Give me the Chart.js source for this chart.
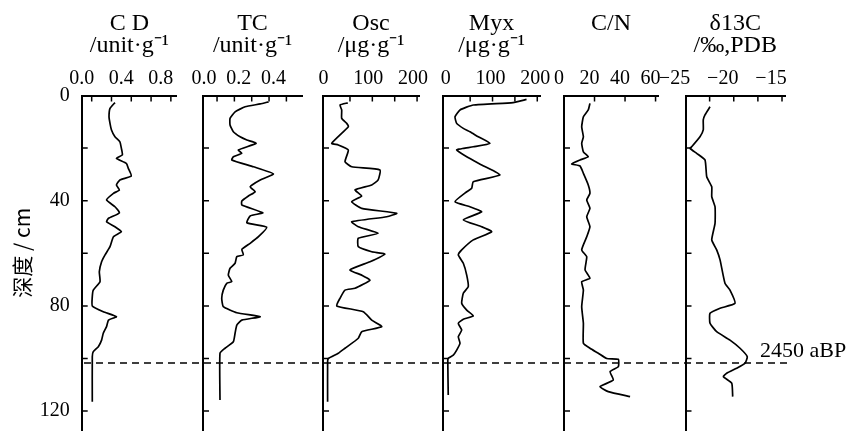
<!DOCTYPE html>
<html>
<head>
<meta charset="utf-8">
<script src="https://cdn.jsdelivr.net/npm/chart.js@4/dist/chart.umd.min.js"></script>
<style>
    body { margin: 0; background: #fff; }
    #wrap { position: relative; width: 847px; height: 431px; }
    #wrap canvas { position: absolute; left: 0; top: 0; }
</style>
</head>
<body>
<div id="wrap">
    <canvas id="c0" width="847" height="431"></canvas>
    <canvas id="c1" width="847" height="431"></canvas>
    <canvas id="c2" width="847" height="431"></canvas>
    <canvas id="c3" width="847" height="431"></canvas>
    <canvas id="c4" width="847" height="431"></canvas>
    <canvas id="c5" width="847" height="431"></canvas>
</div>
<script>
    // Depth axis (cm)
    const depthLabels = [0, 40, 80, 120];
    const depthMarks = [20, 40, 60, 80, 100, 120];
    const boundaryDepth = 101.7;
    const boundaryText = '2450 aBP';

    // CD /unit.g-1
    const cdDepth = [2.7, 4.9, 8.1, 10.6, 13.1, 15.7, 17.6, 20.1, 22.6, 23.9, 25.8, 27.7, 30.6, 32.1, 34.0, 35.9, 37.2, 39.7, 42.3, 44.6, 46.7, 48.0, 49.9, 51.8, 53.7, 57.5, 60.6, 63.2, 67.0, 70.8, 74.0, 76.5, 80.0, 82.2, 84.1, 85.4, 87.9, 90.4, 93.0, 95.5, 97.4, 99.3, 116.4];
    const cdValue = [0.235, 0.185, 0.175, 0.185, 0.20, 0.235, 0.285, 0.30, 0.31, 0.25, 0.35, 0.37, 0.40, 0.285, 0.25, 0.28, 0.22, 0.15, 0.235, 0.28, 0.17, 0.15, 0.235, 0.30, 0.22, 0.185, 0.135, 0.10, 0.077, 0.084, 0.016, 0.006, 0.006, 0.117, 0.25, 0.17, 0.15, 0.117, 0.10, 0.067, 0.016, 0.006, 0.006];
    const cdLabels = [0, 0.4, 0.8];
    const cdMarks = [0, 0.2, 0.4, 0.6, 0.8];

    // TC /unit.g-1
    const tcDepth = [2.4, 3.2, 4.3, 6.2, 8.7, 11.2, 13.8, 15.7, 16.9, 18.2, 20.7, 22.0, 23.3, 24.5, 27.1, 29.8, 32.1, 34.7, 36.6, 38.2, 40.1, 41.6, 44.6, 45.8, 48.4, 50.1, 53.7, 56.2, 58.5, 60.6, 61.3, 63.8, 65.7, 68.3, 70.8, 71.4, 74.0, 77.1, 80.3, 82.6, 84.1, 85.4, 87.3, 90.4, 93.6, 96.1, 98.0, 115.8];
    const tcValue = [0.297, 0.249, 0.162, 0.104, 0.075, 0.075, 0.094, 0.133, 0.172, 0.225, 0.123, 0.143, 0.094, 0.085, 0.21, 0.325, 0.249, 0.191, 0.22, 0.181, 0.143, 0.143, 0.264, 0.191, 0.172, 0.287, 0.239, 0.191, 0.143, 0.152, 0.114, 0.104, 0.075, 0.065, 0.085, 0.056, 0.036, 0.027, 0.036, 0.114, 0.249, 0.143, 0.114, 0.104, 0.094, 0.046, 0.017, 0.017];
    const tcLabels = [0, 0.2, 0.4];
    const tcMarks = [0, 0.1, 0.2, 0.3, 0.4];

    // Osc /ug.g-1
    const oscDepth = [2.8, 3.6, 5.5, 8.7, 10.6, 11.9, 18.2, 18.8, 20.7, 25.2, 27.1, 28.3, 32.1, 34.0, 35.9, 38.2, 40.4, 42.9, 44.8, 46.1, 48.0, 49.9, 52.4, 54.3, 57.5, 59.4, 60.3, 63.2, 66.3, 68.3, 70.2, 73.3, 74.0, 77.1, 80.0, 82.2, 85.4, 87.9, 89.8, 92.3, 96.1, 98.0, 100.0, 101.2, 116.4];
    const oscValue = [45, 27.7, 31.5, 31.5, 42.7, 46.3, 9.2, 23.9, 46.3, 38.9, 53.9, 117, 113, 98.6, 61.3, 76.2, 53.9, 76.2, 154.5, 132, 53.9, 68.6, 113, 68.6, 68.6, 98.6, 128, 94.8, 50, 76.2, 94.8, 61.3, 38.9, 27.7, 20.3, 79.8, 98.6, 121, 76.2, 68.6, 38.9, 23.9, 1.6, 0, 0];
    const oscLabels = [0, 100, 200];
    const oscMarks = [50, 100, 150, 200];

    // Myx /ug.g-1
    const myxDepth = [1.5, 2.7, 3.6, 5.5, 8.1, 10.6, 12.5, 13.8, 15.7, 18.2, 19.5, 20.1, 20.7, 23.3, 26.4, 30.2, 32.8, 35.3, 36.6, 40.4, 42.3, 44.2, 47.3, 49.9, 51.8, 54.9, 58.7, 60.6, 63.8, 68.3, 72.7, 75.2, 79.0, 81.6, 83.8, 85.1, 86.6, 89.2, 91.7, 94.2, 96.8, 98.7, 99.9, 100.8, 113.9];
    const myxValue = [176, 146, 57, 27.3, 16.1, 19.9, 34.7, 49.6, 68.2, 94.3, 57, 34.7, 19.9, 42.3, 75.8, 116.7, 57, 53.4, 42.3, 16.1, 49.6, 75.8, 34.7, 75.8, 98.1, 57, 31.1, 23.5, 34.7, 42.3, 45.8, 34.7, 31.1, 42.3, 57, 34.7, 23.5, 31.1, 23.5, 27.3, 19.9, 12.3, 1.1, 0, 1];
    const myxLabels = [0, 100, 200];
    const myxMarks = [50, 100, 150, 200];

    // C/N
    const cnDepth = [3.0, 5.5, 8.1, 11.9, 15.7, 18.2, 21.4, 23.3, 24.5, 26.0, 26.8, 29.6, 34.0, 37.2, 39.7, 42.9, 46.1, 49.9, 53.7, 58.7, 61.3, 66.3, 69.5, 70.8, 74.0, 80.3, 86.6, 94.2, 96.1, 98.0, 100.0, 100.3, 103.1, 105.0, 108.2, 110.7, 112.6, 114.5];
    const cnValue = [17.0, 15.9, 12.7, 11.6, 12.7, 11.6, 12.7, 15.9, 10.5, 5.0, 10.5, 12.7, 15.9, 17.0, 14.9, 17.0, 14.9, 17.0, 14.9, 11.6, 14.9, 13.8, 17.0, 11.6, 12.7, 11.6, 12.7, 12.7, 17.0, 22.5, 28.0, 35.6, 35.6, 30.2, 32.3, 23.6, 29.0, 43.3];
    const cnLabels = [0, 20, 40, 60];
    const cnMarks = [20, 40, 60];

    // d13C /permil PDB
    const d13cDepth = [4.3, 7.4, 9.3, 13.1, 15.7, 19.5, 20.1, 22.0, 24.5, 30.9, 34.7, 38.5, 42.3, 48.6, 54.9, 58.7, 62.5, 71.4, 74.0, 79.0, 80.9, 82.8, 86.6, 89.8, 93.0, 96.1, 99.3, 101.8, 103.7, 105.6, 106.9, 109.4, 114.5];
    const d13cValue = [-22.46, -22.98, -23.16, -23.16, -23.5, -24.36, -24.53, -23.84, -22.98, -22.8, -22.28, -22.28, -21.94, -21.94, -22.28, -21.77, -21.42, -20.91, -20.39, -19.87, -21.42, -22.46, -22.46, -21.77, -20.39, -19.35, -18.6, -18.83, -19.7, -20.73, -21.08, -20.21, -20.11];
    const d13cLabels = [-25, -20, -15];
    const d13cMarks = [-22.5, -20, -17.5, -15];


    // Layout
    const W = 847, H = 431;
    const plotTop = 95.5;
    const serif = "'Liberation Serif', 'Times New Roman', serif";
    Chart.defaults.font.family = serif;
    Chart.defaults.color = '#000';

    const panels = [
        {title: ['C D', '/unit\u00b7g\u207b\u00b9'], depth: cdDepth, value: cdValue, labels: cdLabels, marks: cdMarks, digits: 1, min: -0.101, max: 0.862, left: 81.7, right: 177, shift: -10},
        {title: ['TC', '/unit\u00b7g\u207b\u00b9'], depth: tcDepth, value: tcValue, labels: tcLabels, marks: tcMarks, digits: 1, min: -0.081, max: 0.49, left: 203, right: 302, shift: -13},
        {title: ['Osc', '/\u03bcg\u00b7g\u207b\u00b9'], depth: oscDepth, value: oscValue, labels: oscLabels, marks: oscMarks, digits: 0, min: -10.3, max: 204.3, left: 323, right: 419, shift: -4},
        {title: ['Myx', '/\u03bcg\u00b7g\u207b\u00b9'], depth: myxDepth, value: myxValue, labels: myxLabels, marks: myxMarks, digits: 0, min: -10.7, max: 206.1, left: 443, right: 540, shift: -2},
        {title: ['C/N'], depth: cnDepth, value: cnValue, labels: cnLabels, marks: cnMarks, digits: 0, min: 0, max: 61.6, left: 564, right: 658, shift: -5},
        {title: ['\u03b413C', '/\u2030,PDB'], depth: d13cDepth, value: d13cValue, labels: d13cLabels, marks: d13cMarks, digits: 0, min: -25, max: -14.69, left: 685.5, right: 785, shift: -11}
    ];

    function fmt(v, digits) {
        const s = Math.abs(v).toFixed(digits);
        return v < 0 ? '\u2212' + s : s;
    }

    // no extra inset for labels that hang over the plot edges
    function noPad(s) {
        s.paddingTop = 0;
        s.paddingBottom = 0;
        s.paddingLeft = 0;
        s.paddingRight = 0;
    }

    // Inward tick marks, boundary line and its label
    const panelDeco = {
        id: 'panelDeco',
        afterDraw: function (chart, args, opts) {
            const ctx = chart.ctx;
            const a = chart.chartArea;
            const x = chart.scales.x, y = chart.scales.y;
            ctx.save();
            ctx.strokeStyle = '#000';
            ctx.lineWidth = 1.5;
            ctx.beginPath();
            opts.marks.forEach(function (v) {
                const px = x.getPixelForValue(v);
                ctx.moveTo(px, a.top);
                ctx.lineTo(px, a.top + 6);
            });
            depthMarks.forEach(function (d) {
                const py = y.getPixelForValue(d);
                ctx.moveTo(a.left, py);
                ctx.lineTo(a.left + 6, py);
            });
            ctx.stroke();

            const by = y.getPixelForValue(boundaryDepth);
            ctx.setLineDash([7, 5]);
            ctx.lineDashOffset = a.left;
            ctx.beginPath();
            ctx.moveTo(a.left, by);
            ctx.lineTo(opts.dashEnd, by);
            ctx.stroke();
            ctx.setLineDash([]);

            if (opts.label) {
                ctx.fillStyle = '#000';
                ctx.font = '22px ' + serif;
                ctx.textBaseline = 'alphabetic';
                ctx.fillText(boundaryText, a.right - 25, by - 6);
            }
            ctx.restore();
        }
    };

    panels.forEach(function (p, i) {
        const first = i === 0;
        const last = i === panels.length - 1;
        new Chart(document.getElementById('c' + i), {
            type: 'line',
            data: {
                datasets: [{
                    data: p.depth.map(function (d, k) { return {x: p.value[k], y: d}; }),
                    borderColor: '#000',
                    borderWidth: 1.7,
                    pointRadius: 0,
                    tension: 0.15,
                    fill: false
                }]
            },
            options: {
                responsive: false,
                animation: false,
                events: [],
                layout: {padding: {left: first ? 0 : p.left, right: W - p.right, top: 0, bottom: 0}},
                plugins: {
                    legend: {display: false},
                    tooltip: {enabled: false},
                    panelDeco: {marks: p.marks, dashEnd: last ? 790 : panels[i + 1].left, label: last}
                },
                scales: {
                    x: {
                        type: 'linear',
                        position: 'top',
                        min: p.min,
                        max: p.max,
                        afterFit: function (s) { s.height = plotTop; noPad(s); },
                        afterBuildTicks: function (s) { s.ticks = p.labels.map(function (v) { return {value: v}; }); },
                        grid: {display: false, drawTicks: false},
                        border: {display: true, color: '#000', width: 2},
                        ticks: {
                            font: {size: 20},
                            color: '#000',
                            padding: 5,
                            labelOffset: p.shift,
                            maxRotation: 0,
                            autoSkip: false,
                            callback: function (v) { return fmt(v, p.digits); }
                        },
                        title: {
                            display: true,
                            text: p.title,
                            font: {size: 24, lineHeight: 0.95},
                            color: '#000',
                            padding: {top: 12, bottom: 0}
                        }
                    },
                    y: {
                        type: 'linear',
                        reverse: true,
                        min: 0,
                        max: (H - plotTop) / 2.63,
                        afterFit: function (s) { s.width = first ? p.left : 0; noPad(s); },
                        afterBuildTicks: function (s) { s.ticks = depthLabels.map(function (v) { return {value: v}; }); },
                        grid: {display: false, drawTicks: false},
                        border: {display: true, color: '#000', width: 2},
                        ticks: {display: first, font: {size: 20}, color: '#000', padding: 12},
                        title: {
                            display: first,
                            text: '\u3000\u6df1\u5ea6 / cm',
                            font: {family: "'Noto Sans CJK SC', sans-serif", size: 21},
                            color: '#000',
                            padding: {top: 9, bottom: 0}
                        }
                    }
                }
            },
            plugins: [panelDeco]
        });
    });
</script>
</body>
</html>
